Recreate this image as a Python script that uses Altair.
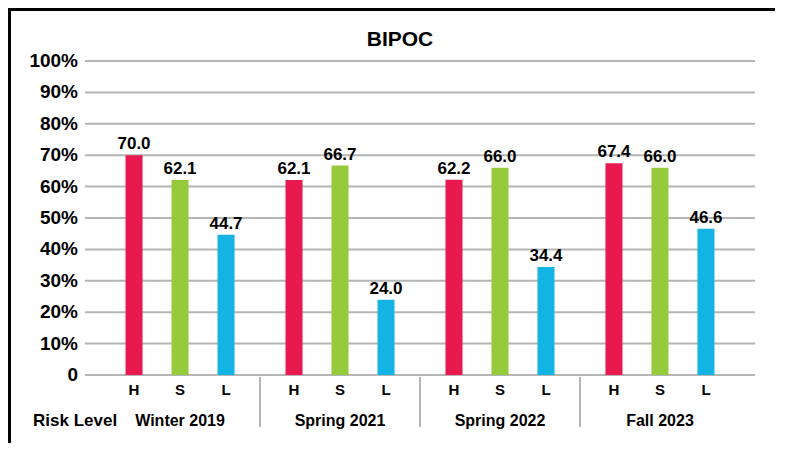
import altair as alt
import pandas as pd

FONT = "Liberation Sans, Arial, sans-serif"

periods = ["Winter 2019", "Spring 2021", "Spring 2022", "Fall 2023"]
levels = ["H", "S", "L"]
h_vals = [70.0, 62.1, 62.2, 67.4]
s_vals = [62.1, 66.7, 66.0, 66.0]
l_vals = [44.7, 24.0, 34.4, 46.6]
level_colors = ["#E8194F", "#97C93D", "#13B4E3"]
y_ticks = [0, 10, 20, 30, 40, 50, 60, 70, 80, 90, 100]
y_labels = ["0", "10%", "20%", "30%", "40%", "50%", "60%", "70%", "80%", "90%", "100%"]
title_text = "BIPOC"
x_title = "Risk Level"

rows = []
for i, p in enumerate(periods):
    for lv, vals in zip(levels, [h_vals, s_vals, l_vals]):
        rows.append({"period": p, "level": lv, "value": vals[i]})
df = pd.DataFrame(rows)
sep_df = pd.DataFrame({"period": periods[1:]})
per_df = pd.DataFrame({"period": periods})
tick_df = pd.DataFrame({"value": y_ticks, "label": y_labels})
title_df = pd.DataFrame({"t": [title_text]})
xt_df = pd.DataFrame({"t": [x_title]})

W, H = 670, 314

xscale = alt.Scale(domain=periods, paddingInner=0, paddingOuter=0.094)
yscale = alt.Scale(domain=[0, 100])
xoff = alt.XOffset("level:N", sort=levels,
                   scale=alt.Scale(domain=levels, paddingInner=0.63, paddingOuter=0.554))
x_enc = alt.X("period:N", sort=periods, scale=xscale, axis=None)
y_enc = alt.Y("value:Q", scale=yscale, axis=None)

grid = alt.Chart(tick_df).mark_rule(color="#b5b5b5", strokeWidth=2).encode(
    y=y_enc, x=alt.value(0), x2=alt.value(W)
)

ylab = alt.Chart(tick_df).mark_text(
    align="right", baseline="middle", font=FONT, fontSize=19, fontWeight="bold", color="black"
).encode(y=y_enc, x=alt.value(-7), text="label:N")

bars = alt.Chart(df).mark_bar().encode(
    x=x_enc,
    xOffset=xoff,
    y=y_enc,
    color=alt.Color("level:N", sort=levels,
                    scale=alt.Scale(domain=levels, range=level_colors), legend=None),
)

values_txt = alt.Chart(df).mark_text(
    baseline="bottom", dy=-2, font=FONT, fontSize=17, fontWeight="bold", color="black"
).encode(
    x=x_enc, xOffset=xoff, y=y_enc,
    text=alt.Text("value:Q", format=".1f"),
)

level_txt = alt.Chart(df).mark_text(
    baseline="middle", font=FONT, fontSize=15, fontWeight="bold", color="black"
).encode(
    x=x_enc, xOffset=xoff, y=alt.value(H + 15), text="level:N",
)

group_txt = alt.Chart(per_df).mark_text(
    baseline="middle", font=FONT, fontSize=16, fontWeight="bold", color="black"
).encode(
    x=x_enc, y=alt.value(H + 46), text="period:N",
)

xtitle = alt.Chart(xt_df).mark_text(
    align="left", baseline="middle", font=FONT, fontSize=17, fontWeight="bold", color="black"
).encode(x=alt.value(-52), y=alt.value(H + 46), text="t:N")

seps = alt.Chart(sep_df).mark_rule(color="#b5b5b5", strokeWidth=2).encode(
    x=alt.X("period:N", sort=periods, scale=xscale, bandPosition=0, axis=None),
    y=alt.value(H + 2),
    y2=alt.value(H + 52),
)

title_mark = alt.Chart(title_df).mark_text(
    baseline="middle", align="center", font=FONT, fontSize=21, fontWeight="bold", color="black"
).encode(x=alt.value(315), y=alt.value(-21), text="t:N")

frame_top = alt.Chart(title_df).mark_rect(color="black").encode(
    x=alt.value(-77), x2=alt.value(W + 20), y=alt.value(-53), y2=alt.value(-50)
)
frame_left = alt.Chart(title_df).mark_rect(color="black").encode(
    x=alt.value(-77), x2=alt.value(-74), y=alt.value(-53), y2=alt.value(H + 68)
)

chart = alt.layer(
    grid, ylab, bars, values_txt, level_txt, group_txt, xtitle, seps,
    title_mark, frame_top, frame_left
).properties(
    width=W, height=H,
    autosize=alt.AutoSizeParams(type="none"),
    padding={"left": 77, "top": 53, "right": 20, "bottom": 68},
).configure_view(strokeWidth=0)

chart.save("out.html", embed_options={"renderer": "svg", "actions": False})
